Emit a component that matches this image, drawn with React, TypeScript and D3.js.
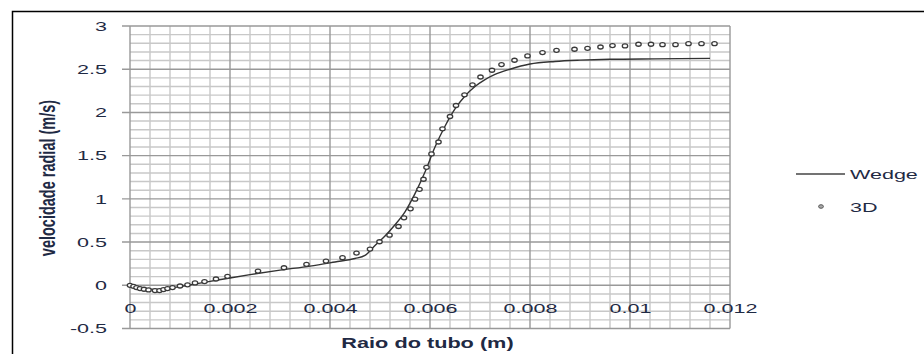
import React, { useRef, useEffect } from "react";
import * as d3 from "d3";

// Wedge (2D) solution, radial velocity along the tube radius
const wedgeRadius = [
  0, 0.0002, 0.0004, 0.0006, 0.0008, 0.001, 0.0012, 0.0016, 0.002, 0.0024,
  0.003, 0.0036, 0.0041, 0.0045, 0.0047, 0.0049, 0.0051, 0.0053, 0.0055,
  0.0057, 0.0059, 0.0061, 0.0063, 0.0065, 0.0067, 0.0069, 0.0071, 0.0073,
  0.0076, 0.008, 0.0085, 0.009, 0.0096, 0.0105, 0.0116,
];
const wedgeVelocity = [
  0, -0.03, -0.045, -0.048, -0.035, -0.015, 0.005, 0.045, 0.085, 0.123,
  0.175, 0.222, 0.27, 0.31, 0.345, 0.46, 0.57, 0.7, 0.85, 1.06, 1.31, 1.6,
  1.84, 2.04, 2.19, 2.3, 2.38, 2.44, 2.5, 2.56, 2.59, 2.605, 2.615, 2.62,
  2.625,
];

// 3D solution, sampled points
const radius3D = [
  0, 0.00007, 0.00013, 0.0002, 0.00028, 0.00037, 0.0005, 0.00059, 0.00067,
  0.00075, 0.00085, 0.001, 0.00115, 0.0013, 0.00149, 0.00172, 0.00195,
  0.00256, 0.00308, 0.00353, 0.00392, 0.00425, 0.00453, 0.0048, 0.00499,
  0.00519, 0.00537, 0.00548, 0.00561, 0.0057, 0.00579, 0.00587, 0.00593,
  0.00603, 0.00617, 0.00625, 0.0064, 0.00652, 0.00669, 0.00685, 0.00701,
  0.00724, 0.00743, 0.00769, 0.00795, 0.00825, 0.00853, 0.00889, 0.00915,
  0.00941, 0.00965, 0.0099, 0.01017, 0.01042, 0.01065, 0.01091, 0.01117,
  0.01143, 0.01169,
];
const velocity3D = [
  0, -0.012, -0.027, -0.038, -0.046, -0.054, -0.061, -0.061, -0.05, -0.038,
  -0.027, -0.008, 0.005, 0.027, 0.043, 0.073, 0.104, 0.165, 0.203, 0.242,
  0.28, 0.32, 0.373, 0.419, 0.504, 0.58, 0.68, 0.78, 0.885, 0.996, 1.11,
  1.227, 1.365, 1.52, 1.658, 1.81, 1.953, 2.08, 2.204, 2.319, 2.41, 2.488,
  2.554, 2.604, 2.654, 2.692, 2.719, 2.731, 2.742, 2.757, 2.773, 2.769,
  2.789, 2.789, 2.784, 2.784, 2.796, 2.796, 2.796,
];

const xTicks = [0, 0.002, 0.004, 0.006, 0.008, 0.01, 0.012];
const xTickLabels = ["0", "0.002", "0.004", "0.006", "0.008", "0.01", "0.012"];
const yTicks = [-0.5, 0, 0.5, 1, 1.5, 2, 2.5, 3];
const yTickLabels = ["-0.5", "0", "0.5", "1", "1.5", "2", "2.5", "3"];
const seriesNames = ["Wedge", "3D"];

const width = 924;
const height = 354;
const textColor = "#1f2a44";
const stretch = 1.62; // the original picture is stretched horizontally

const App = () => {
  const svgRef = useRef<SVGSVGElement | null>(null);

  useEffect(() => {
    const svg = d3.select(svgRef.current);
    svg.selectAll("*").remove();

    const x = d3.scaleLinear().domain([0, 0.012]).range([130, 730]);
    const y = d3.scaleLinear().domain([-0.5, 3]).range([328.5, 26]);

    // outer chart border (runs off the picture on the right and bottom)
    svg
      .append("rect")
      .attr("x", 12.5)
      .attr("y", 11.5)
      .attr("width", 1000)
      .attr("height", 400)
      .attr("fill", "white")
      .attr("stroke", "#000")
      .attr("stroke-width", 1.5);

    const grid = svg.append("g");

    // minor grid
    const minorX = d3.range(0, 0.01201, 0.0004).filter((v) => Math.abs(v / 0.002 - Math.round(v / 0.002)) > 1e-6);
    const minorY = d3.range(-0.5, 3.001, 0.1).filter((v) => Math.abs(v / 0.5 - Math.round(v / 0.5)) > 1e-6);

    grid
      .selectAll(".minor-x")
      .data(minorX)
      .enter()
      .append("line")
      .attr("x1", (d) => x(d))
      .attr("x2", (d) => x(d))
      .attr("y1", y(3))
      .attr("y2", y(-0.5))
      .attr("stroke", "#c8c8c8")
      .attr("stroke-width", 1.4);

    grid
      .selectAll(".minor-y")
      .data(minorY)
      .enter()
      .append("line")
      .attr("x1", x(0))
      .attr("x2", x(0.012))
      .attr("y1", (d) => y(d))
      .attr("y2", (d) => y(d))
      .attr("stroke", "#c8c8c8")
      .attr("stroke-width", 1.4);

    // major grid
    grid
      .selectAll(".major-x")
      .data(xTicks)
      .enter()
      .append("line")
      .attr("x1", (d) => x(d))
      .attr("x2", (d) => x(d))
      .attr("y1", y(3))
      .attr("y2", y(-0.5))
      .attr("stroke", "#999")
      .attr("stroke-width", 1.4);

    grid
      .selectAll(".major-y")
      .data(yTicks)
      .enter()
      .append("line")
      .attr("x1", x(0) - 8)
      .attr("x2", x(0.012))
      .attr("y1", (d) => y(d))
      .attr("y2", (d) => y(d))
      .attr("stroke", "#999")
      .attr("stroke-width", 1.4);

    // y tick labels
    svg
      .selectAll(".ytick")
      .data(yTicks)
      .enter()
      .append("text")
      .attr("transform", (d) => `translate(107,${y(d) + 4.8}) scale(${stretch},1)`)
      .attr("text-anchor", "end")
      .style("font-family", "Liberation Sans, Arial, sans-serif")
      .style("font-size", "13.3px")
      .attr("fill", textColor)
      .text((d, i) => yTickLabels[i]);

    // x tick labels (sit just under the zero line)
    svg
      .selectAll(".xtick")
      .data(xTicks)
      .enter()
      .append("text")
      .attr("transform", (d) => `translate(${x(d) + 0.5},312.7) scale(${stretch},1)`)
      .attr("text-anchor", "middle")
      .style("font-family", "Liberation Sans, Arial, sans-serif")
      .style("font-size", "13.3px")
      .attr("fill", textColor)
      .text((d, i) => xTickLabels[i]);

    // axis titles
    svg
      .append("text")
      .attr("transform", `translate(427.5,348) scale(1.55,1)`)
      .attr("text-anchor", "middle")
      .style("font-family", "Liberation Sans, Arial, sans-serif")
      .style("font-size", "14px")
      .style("font-weight", "bold")
      .attr("fill", textColor)
      .text("Raio do tubo (m)");

    svg
      .append("text")
      .attr("transform", `translate(55,178) scale(1.55,1) rotate(-90)`)
      .attr("text-anchor", "middle")
      .style("font-family", "Liberation Sans, Arial, sans-serif")
      .style("font-size", "14.5px")
      .style("font-weight", "bold")
      .attr("fill", textColor)
      .text("velocidade radial (m/s)");

    // Wedge line
    const wedge = wedgeRadius.map((r, i) => [r, wedgeVelocity[i]] as [number, number]);
    const line = d3
      .line<[number, number]>()
      .x((d) => x(d[0]))
      .y((d) => y(d[1]))
      .curve(d3.curveMonotoneX);

    svg
      .append("path")
      .datum(wedge)
      .attr("d", line)
      .attr("fill", "none")
      .attr("stroke", "#333")
      .attr("stroke-width", 1.4);

    // 3D markers
    svg
      .selectAll(".pt3d")
      .data(radius3D)
      .enter()
      .append("ellipse")
      .attr("cx", (d) => x(d))
      .attr("cy", (d, i) => y(velocity3D[i]))
      .attr("rx", 2.7)
      .attr("ry", 2)
      .attr("fill", "white")
      .attr("stroke", "#3a3a3a")
      .attr("stroke-width", 1.3);

    // legend
    const legend = svg.append("g");
    legend
      .append("line")
      .attr("x1", 796)
      .attr("x2", 845)
      .attr("y1", 174)
      .attr("y2", 174)
      .attr("stroke", "#444")
      .attr("stroke-width", 1.5);
    legend
      .append("ellipse")
      .attr("cx", 821)
      .attr("cy", 206.5)
      .attr("rx", 2.4)
      .attr("ry", 1.8)
      .attr("fill", "#aaa")
      .attr("stroke", "#555")
      .attr("stroke-width", 1);
    legend
      .selectAll(".legend-label")
      .data(seriesNames)
      .enter()
      .append("text")
      .attr("transform", (d, i) => `translate(850,${178.5 + i * 33}) scale(${stretch},1)`)
      .style("font-family", "Liberation Sans, Arial, sans-serif")
      .style("font-size", "13.3px")
      .attr("fill", textColor)
      .text((d) => d);
  }, []);

  return (
    <svg
      ref={svgRef}
      width={width}
      height={height}
      style={{ position: "absolute", left: 0, top: 0, display: "block" }}
    />
  );
};

export default App;
